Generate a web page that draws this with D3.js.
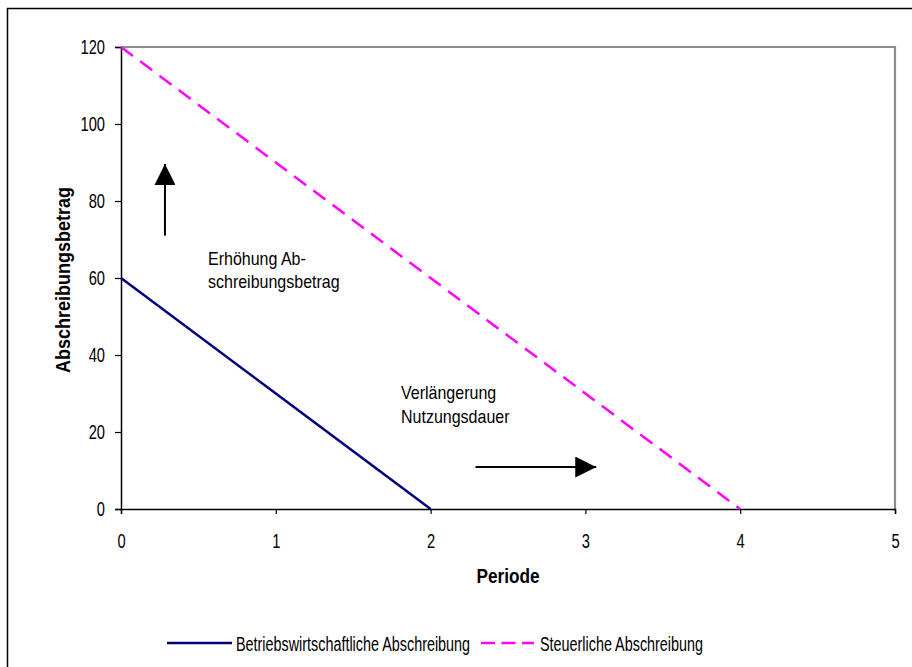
<!DOCTYPE html>
<html>
<head>
<meta charset="utf-8">
<script src="https://cdn.jsdelivr.net/npm/d3@7"></script>
<style>
  body { margin: 0; background: #fff; }
  text { font-family: "Liberation Sans", Arial, sans-serif; fill: #000; }
</style>
</head>
<body>
<svg id="chart"></svg>
<script>
// Chart data
const periods = [0, 1, 2, 3, 4, 5];
const betrieb = [60, 30, 0];
const steuer = [120, 90, 60, 30, 0];
const yTicks = [0, 20, 40, 60, 80, 100, 120];
const seriesNames = ["Betriebswirtschaftliche Abschreibung", "Steuerliche Abschreibung"];

// squeeze text horizontally, the original uses a narrow looking font
function condense(sel, sx) {
  sel.each(function() {
    const t = d3.select(this);
    const tx = +t.attr("x") || 0, ty = +t.attr("y") || 0;
    const rest = t.attr("data-rot") ? " rotate(" + t.attr("data-rot") + ")" : "";
    t.attr("x", null).attr("y", null)
     .attr("transform", "translate(" + tx + "," + ty + ")" + rest + " scale(" + sx + ",1)");
  });
}

function drawChart() {
  const W = 912, H = 667;
  const svg = d3.select("#chart").attr("width", W).attr("height", H);
  const margin = {top: 47, right: 17, bottom: 158, left: 121};
  const width = W - margin.left - margin.right,
        height = H - margin.top - margin.bottom;

  // outer frame
  svg.append("rect")
     .attr("x", 7.5).attr("y", 8.5)
     .attr("width", 940).attr("height", 700)
     .attr("fill", "none").attr("stroke", "#000").attr("stroke-width", 1.5);

  const g = svg.append("g")
               .attr("transform", "translate(" + margin.left + "," + margin.top + ")");

  const x = d3.scaleLinear().domain([0, 5]).range([0, width]);
  const y = d3.scaleLinear().domain([0, 120]).range([height, 0]);

  // plot frame top/right (grey)
  g.append("path")
   .attr("d", "M0,0H" + width + "V" + height)
   .attr("fill", "none").attr("stroke", "#8c8c8c").attr("stroke-width", 2.2);

  // y axis
  const yAxis = g.append("g")
   .call(d3.axisLeft(y).tickValues(yTicks).tickSize(6).tickPadding(10));
  // x axis
  const xAxis = g.append("g")
   .attr("transform", "translate(0," + height + ")")
   .call(d3.axisBottom(x).tickValues(periods).tickFormat(d3.format("d"))
                          .tickSize(5).tickPadding(19));

  [yAxis, xAxis].forEach(a => {
    a.select(".domain").attr("stroke", "#000").attr("stroke-width", 1.5);
    a.selectAll(".tick line").attr("stroke", "#000").attr("stroke-width", 1.2);
    a.selectAll(".tick text")
     .style("font-family", "'Liberation Sans', Arial, sans-serif")
     .style("font-size", "21px").attr("fill", "#000")
     .call(condense, 0.7);
  });

  // axis titles
  svg.append("text")
     .attr("x", 70).attr("y", 280).attr("data-rot", -90)
     .attr("text-anchor", "middle")
     .style("font-size", "20px").style("font-weight", "bold")
     .text("Abschreibungsbetrag")
     .call(condense, 0.9);

  svg.append("text")
     .attr("x", margin.left + x(2.5)).attr("y", 583)
     .attr("text-anchor", "middle")
     .style("font-size", "21px").style("font-weight", "bold")
     .text("Periode")
     .call(condense, 0.82);

  // lines
  const line = d3.line()
                 .x((d, i) => x(periods[i]))
                 .y(d => y(d));

  g.append("path")
   .datum(betrieb)
   .attr("fill", "none")
   .attr("stroke", "#000080")
   .attr("stroke-width", 2.5)
   .attr("d", line);

  g.append("path")
   .datum(steuer)
   .attr("fill", "none")
   .attr("stroke", "#ff00ff")
   .attr("stroke-width", 2.5)
   .attr("stroke-dasharray", "15 9")
   .attr("d", line);

  // arrows
  const defs = svg.append("defs");
  defs.append("marker")
      .attr("id", "arrow")
      .attr("viewBox", "0 0 10 10")
      .attr("refX", 10).attr("refY", 5)
      .attr("markerUnits", "userSpaceOnUse")
      .attr("markerWidth", 21).attr("markerHeight", 21)
      .attr("orient", "auto")
      .append("path").attr("d", "M0,0L10,5L0,10Z").attr("fill", "#000");

  g.append("line")
   .attr("x1", x(0.284)).attr("y1", y(71))
   .attr("x2", x(0.284)).attr("y2", y(89.6))
   .attr("stroke", "#000").attr("stroke-width", 2)
   .attr("marker-end", "url(#arrow)");

  g.append("line")
   .attr("x1", x(2.29)).attr("y1", y(10.9))
   .attr("x2", x(3.07)).attr("y2", y(10.9))
   .attr("stroke", "#000").attr("stroke-width", 2)
   .attr("marker-end", "url(#arrow)");

  // annotations
  const notes = [
    {x: 208, y: 265, text: "Erhöhung Ab-"},
    {x: 208, y: 288, text: "schreibungsbetrag"},
    {x: 401, y: 399, text: "Verlängerung"},
    {x: 401, y: 423, text: "Nutzungsdauer"}
  ];
  svg.selectAll(".note").data(notes).join("text")
     .attr("class", "note")
     .attr("x", d => d.x).attr("y", d => d.y)
     .style("font-size", "18px")
     .text(d => d.text)
     .call(condense, 0.89);

  // legend
  const leg = svg.append("g");
  leg.append("line")
     .attr("x1", 167).attr("x2", 232).attr("y1", 643).attr("y2", 643)
     .attr("stroke", "#000080").attr("stroke-width", 2.5);
  leg.append("text").attr("x", 236).attr("y", 650.5)
     .style("font-size", "21px").text(seriesNames[0])
     .call(condense, 0.685);
  leg.append("line")
     .attr("x1", 481).attr("x2", 534).attr("y1", 643).attr("y2", 643)
     .attr("stroke", "#ff00ff").attr("stroke-width", 2.5)
     .attr("stroke-dasharray", "14 6.5");
  leg.append("text").attr("x", 540).attr("y", 650.5)
     .style("font-size", "21px").text(seriesNames[1])
     .call(condense, 0.685);
}

drawChart();
</script>
</body>
</html>
